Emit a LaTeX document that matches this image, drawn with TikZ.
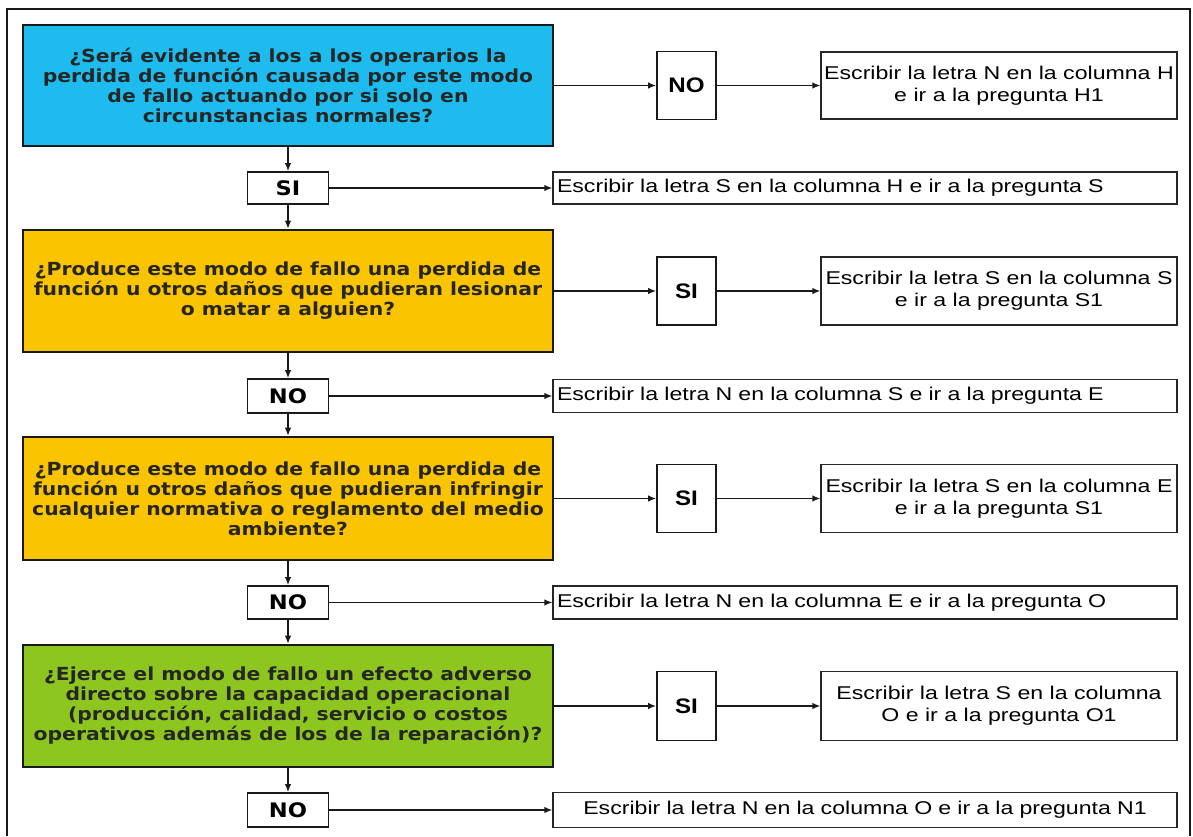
\documentclass[tikz,border=0pt]{standalone}
\usepackage{fontspec}
\setmainfont{Liberation Sans}
% wide bold face for the questions and the left-hand answers
\newfontfamily\qfont[FakeStretch=1.13]{DejaVu Sans}
% regular face for the instructions
\newfontfamily\afont[FakeStretch=1.25]{Liberation Sans}
% bold face for the right-hand answers
\newfontfamily\lfont[FakeStretch=1.15]{Liberation Sans}
\usetikzlibrary{arrows.meta}

\definecolor{qblue}{RGB}{30,188,238}
\definecolor{qyellow}{RGB}{250,196,0}
\definecolor{qgreen}{RGB}{141,198,30}

\begin{document}
\begin{tikzpicture}[x=1pt,y=-1pt,
  question/.style={draw=black!90, line width=2.6pt, minimum width=530pt,
    inner sep=0pt, align=center, text=black!85,
    font=\qfont\bfseries\fontsize{18}{20}\selectfont},
  leftans/.style={draw=black!90, line width=1.8pt, fill=white,
    minimum width=81pt, inner sep=0pt,
    font=\qfont\bfseries\fontsize{20}{22}\selectfont},
  rightans/.style={draw=black!90, line width=1.8pt, fill=white,
    minimum width=59pt, minimum height=68pt, inner sep=0pt,
    font=\lfont\bfseries\fontsize{21}{23}\selectfont},
  instr/.style={draw=black!85, line width=1.3pt, fill=white,
    minimum width=356pt, minimum height=68pt, inner sep=0pt,
    align=center, font=\afont\fontsize{18.5}{22}\selectfont},
  longinstr/.style={draw=black!85, line width=1.3pt, fill=white,
    text width=616pt, inner xsep=4pt, inner ysep=0pt, align=left,
    font=\afont\fontsize{18.5}{22}\selectfont},
  arr/.style={draw=black!90, line width=1.3pt, -{Latex[length=8pt,width=6.5pt]}}
]
\useasboundingbox (0,0) rectangle (1193,836);
\fill[white] (0,0) rectangle (1193,836);

% outer frame (its lower edge lies below the page)
\draw[black!90, line width=1.6pt] (7,836) -- (7,9) -- (1190,9) -- (1190,836);

% questions
\node[question, fill=qblue, minimum height=121pt] (q1) at (288,85.5)
  {¿Será evidente a los a los operarios la\\perdida de función causada por este modo\\de fallo actuando por si solo en\\circunstancias normales?};
\node[question, fill=qyellow, minimum height=122pt] (q2) at (288,291)
  {¿Produce este modo de fallo una perdida de\\función u otros daños que pudieran lesionar\\o matar a alguien?};
\node[question, fill=qyellow, minimum height=123pt] (q3) at (288,498.5)
  {¿Produce este modo de fallo una perdida de\\función u otros daños que pudieran infringir\\cualquier normativa o reglamento del medio\\ambiente?};
\node[question, fill=qgreen, minimum height=122pt] (q4) at (288,706)
  {¿Ejerce el modo de fallo un efecto adverso\\directo sobre la capacidad operacional\\(producción, calidad, servicio o costos\\operativos además de los de la reparación)?};

% answers below each question
\node[leftans, minimum height=32pt] (a1) at (288,188) {SI};
\node[leftans, minimum height=34pt] (a2) at (288,396) {NO};
\node[leftans, minimum height=33pt] (a3) at (288,602.5) {NO};
\node[leftans, minimum height=34pt] (a4) at (288,810) {NO};

% answers to the right of each question
\node[rightans] (b1) at (686.5,85.5) {NO};
\node[rightans] (b2) at (686.5,291) {SI};
\node[rightans] (b3) at (686.5,498.5) {SI};
\node[rightans, minimum height=69pt] (b4) at (686.5,706) {SI};

% instructions for the right-hand answers
\node[instr, minimum height=67pt] (r1) at (999,85.5)
  {Escribir la letra N en la columna H\\e ir a la pregunta H1};
\node[instr] (r2) at (999,291)
  {Escribir la letra S en la columna S\\e ir a la pregunta S1};
\node[instr] (r3) at (999,498.5)
  {Escribir la letra S en la columna E\\e ir a la pregunta S1};
\node[instr, minimum height=69pt] (r4) at (999,706)
  {Escribir la letra S en la columna\\O e ir a la pregunta O1};

% instructions for the answers below
\node[longinstr, minimum height=32pt] (l1) at (865,188)
  {Escribir la letra S en la columna H e ir a la pregunta S};
\node[longinstr, minimum height=33pt] (l2) at (865,396)
  {Escribir la letra N en la columna S e ir a la pregunta E};
\node[longinstr, minimum height=33pt] (l3) at (865,602.5)
  {Escribir la letra N en la columna E e ir a la pregunta O};
\node[longinstr, align=center, minimum height=35pt] (l4) at (865,810)
  {Escribir la letra N en la columna O e ir a la pregunta N1};

% vertical flow
\draw[arr] (q1.south) -- (a1.north);
\draw[arr] (a1.south) -- (q2.north);
\draw[arr] (q2.south) -- (a2.north);
\draw[arr] (a2.south) -- (q3.north);
\draw[arr] (q3.south) -- (a3.north);
\draw[arr] (a3.south) -- (q4.north);
\draw[arr] (q4.south) -- (a4.north);

% branches to the right
\draw[arr] (q1.east) -- (b1.west);
\draw[arr] (b1.east) -- (r1.west);
\draw[arr] (q2.east) -- (b2.west);
\draw[arr] (b2.east) -- (r2.west);
\draw[arr] (q3.east) -- (b3.west);
\draw[arr] (b3.east) -- (r3.west);
\draw[arr] (q4.east) -- (b4.west);
\draw[arr] (b4.east) -- (r4.west);

\draw[arr] (a1.east) -- (l1.west);
\draw[arr] (a2.east) -- (l2.west);
\draw[arr] (a3.east) -- (l3.west);
\draw[arr] (a4.east) -- (l4.west);
\end{tikzpicture}
\end{document}
